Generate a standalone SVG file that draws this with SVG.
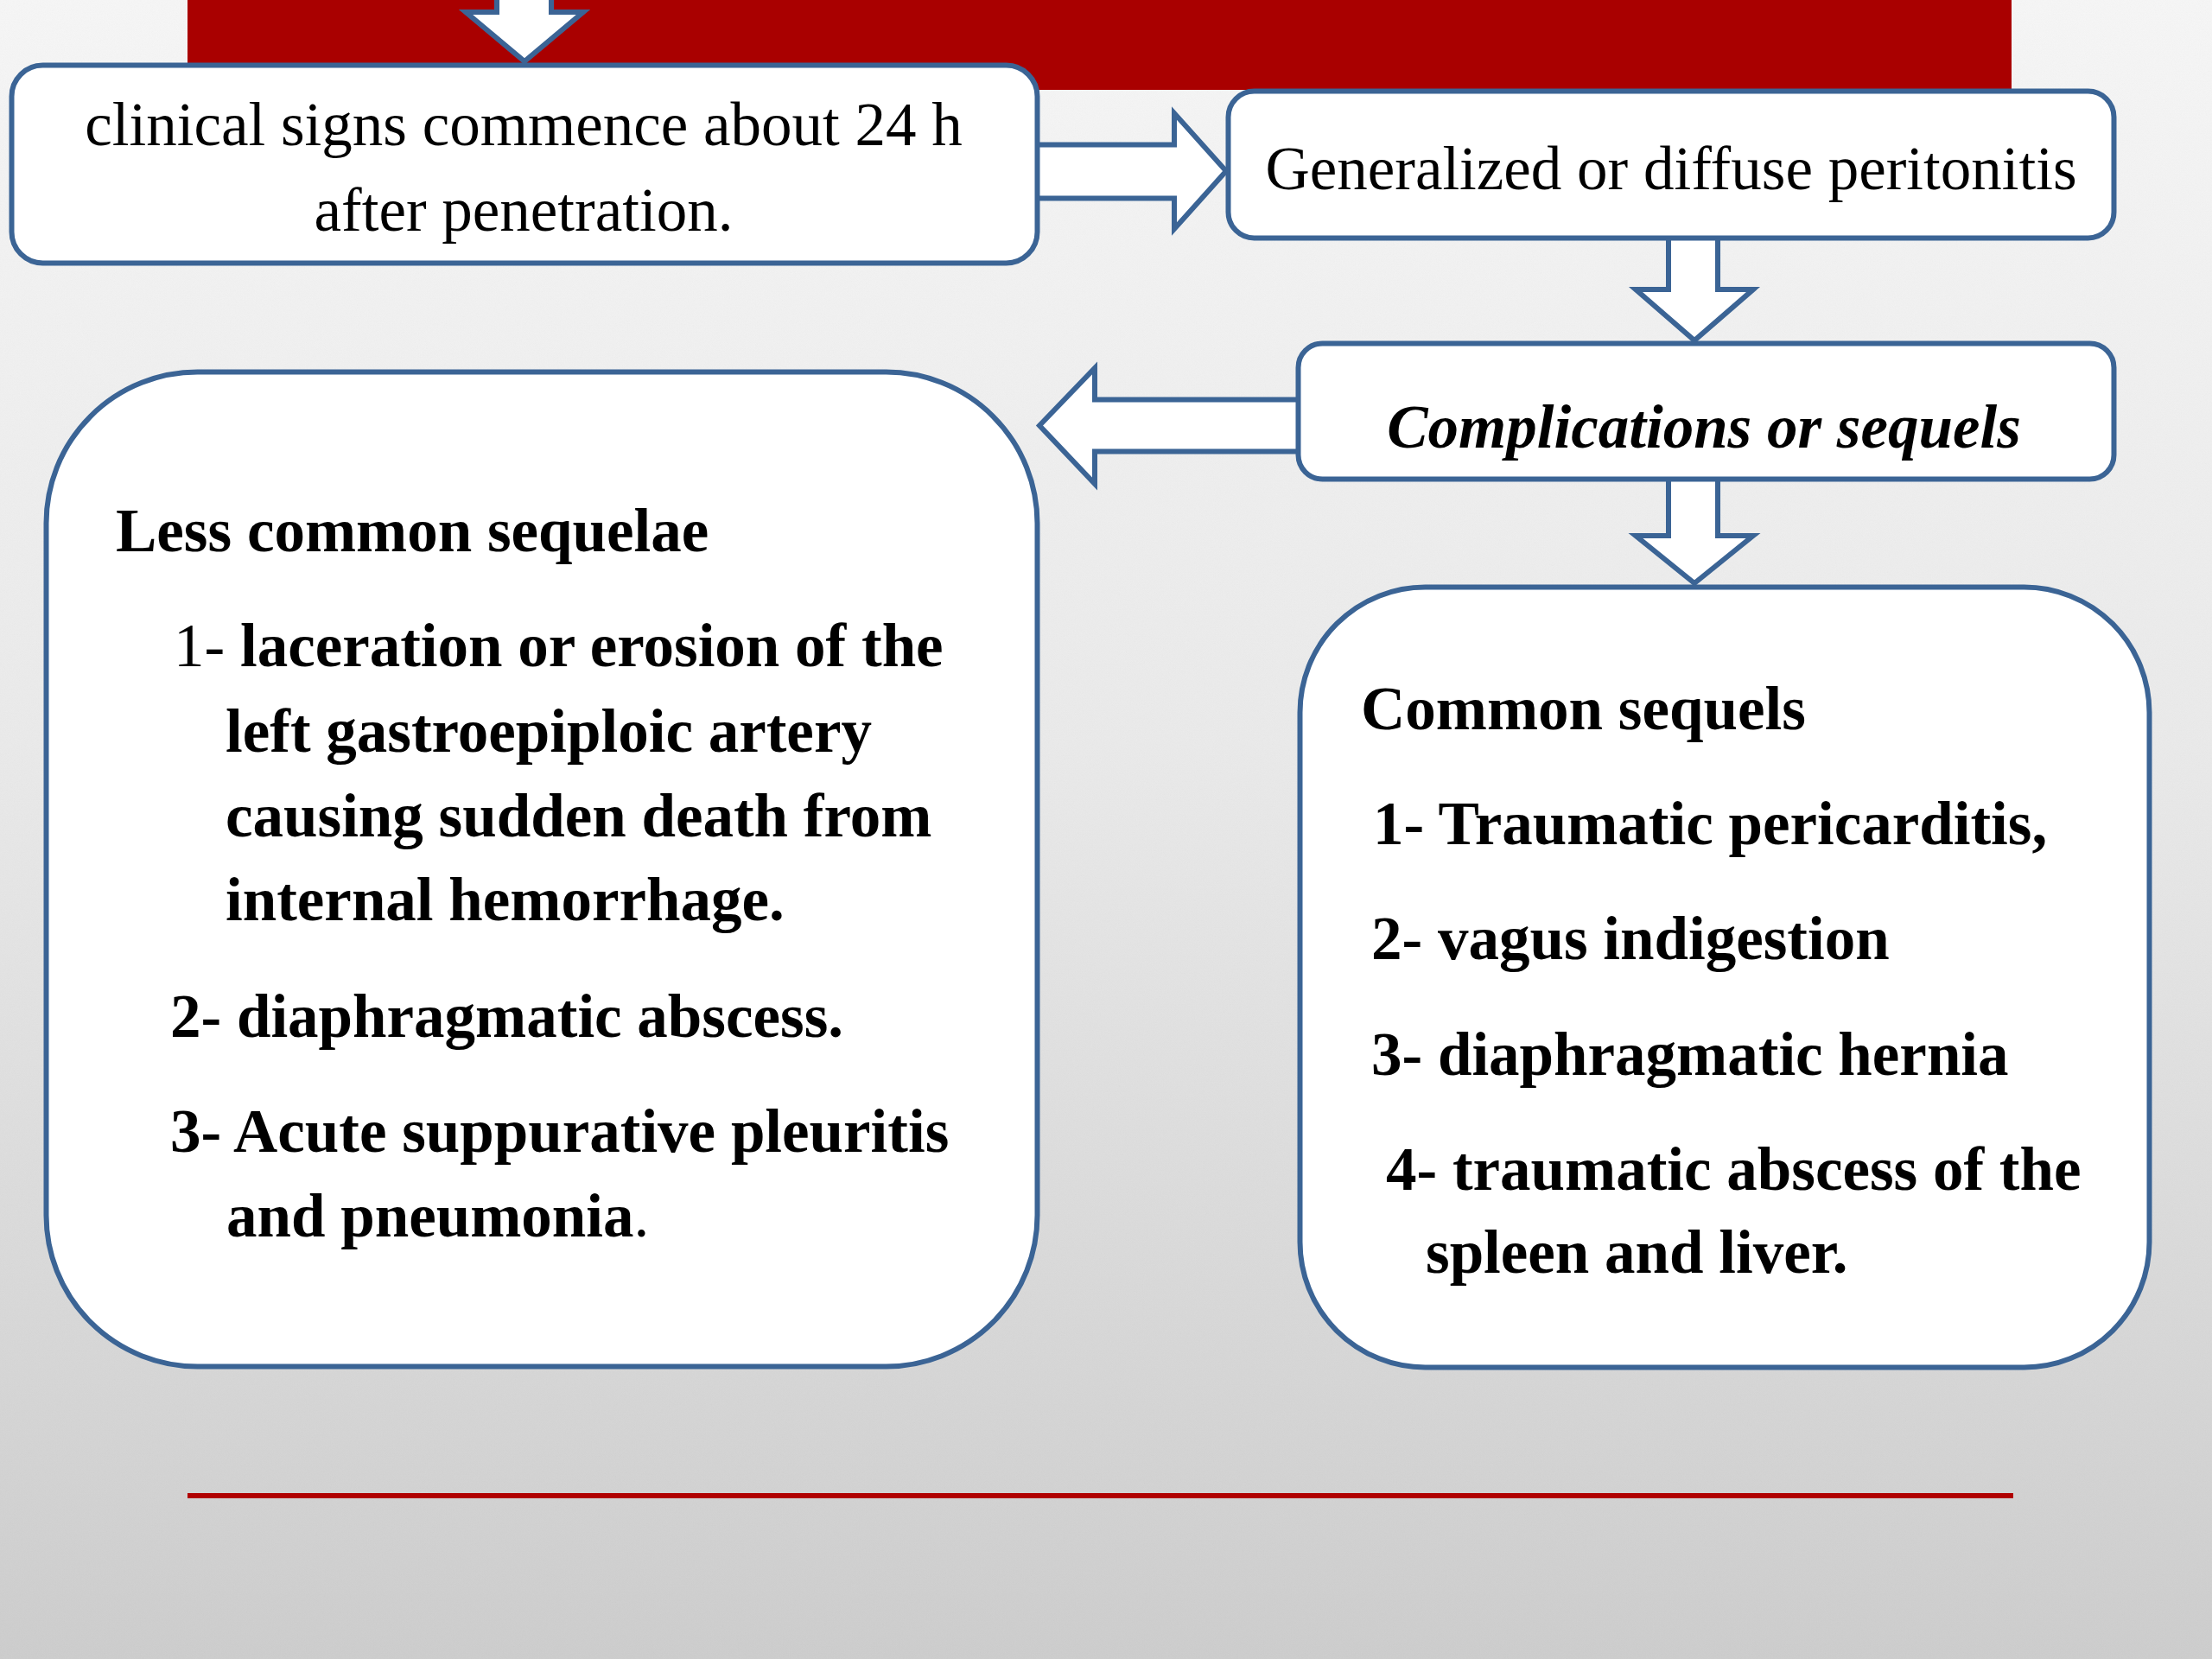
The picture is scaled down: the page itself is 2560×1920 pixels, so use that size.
<svg xmlns="http://www.w3.org/2000/svg" width="2560" height="1920" viewBox="0 0 2560 1920">
<defs>
<linearGradient id="bg" x1="0" y1="0" x2="0" y2="1">
<stop offset="0" stop-color="#f6f6f6"/>
<stop offset="0.45" stop-color="#eaeaea"/>
<stop offset="1" stop-color="#cdcdcd"/>
</linearGradient>
<filter id="noise" x="0" y="0" width="100%" height="100%">
<feTurbulence type="fractalNoise" baseFrequency="0.9" numOctaves="2" seed="3"/>
<feColorMatrix type="saturate" values="0"/>
</filter>
</defs>
<style>
.box{fill:#ffffff;stroke:#3b6495;stroke-width:6}
.arr{fill:#ffffff;stroke:#3b6495;stroke-width:6;stroke-linejoin:miter}
.t{font-family:"Liberation Serif","Times New Roman",serif;font-size:71px;fill:#000000}
.b{font-weight:bold}
.n{font-weight:normal}
.bi{font-weight:bold;font-style:italic}
</style>
<rect x="0" y="0" width="2560" height="1920" fill="url(#bg)"/>
<rect x="0" y="0" width="2560" height="1920" filter="url(#noise)" opacity="0.05"/>
<rect x="217" y="0" width="2111" height="104" fill="#a90000"/>
<line x1="217" y1="1731" x2="2330" y2="1731" stroke="#b00000" stroke-width="6"/>
<g id="connectors">
<polygon class="arr" points="575,-10 638,-10 638,14 675,14 607,71 539,14 575,14"/>
<polygon class="arr" points="1190,167.5 1359,167.5 1359,131 1419,198 1359,265 1359,229.5 1190,229.5"/>
<polygon class="arr" points="1931,260 1988,260 1988,335 2029,335 1961,394 1893,335 1931,335"/>
<polygon class="arr" points="1520,462.5 1267,462.5 1267,426 1203,492.5 1267,560 1267,522.5 1520,522.5"/>
<polygon class="arr" points="1931,540 1988,540 1988,620 2029,620 1961,675 1893,620 1931,620"/>
</g>
<g id="node-clinical">
<rect class="box" x="13.5" y="75.5" width="1187" height="229" rx="36"/>
<text class="t" x="606" y="168" text-anchor="middle">clinical signs commence about 24 h</text>
<text class="t" x="606" y="267" text-anchor="middle">after penetration.</text>
</g>
<g id="node-peritonitis">
<rect class="box" x="1421.5" y="105.5" width="1025" height="170" rx="30"/>
<text class="t" x="1934" y="219" text-anchor="middle">Generalized or diffuse peritonitis</text>
</g>
<g id="node-complications">
<rect class="box" x="1502.5" y="397.5" width="944" height="157" rx="28"/>
<text class="t bi" x="1972" y="518" text-anchor="middle">Complications or sequels</text>
</g>
<g id="node-less-common">
<rect class="box" x="53.5" y="430.5" width="1147" height="1151" rx="175"/>
<text class="t b" x="134" y="638">Less common sequelae</text>
<text class="t b" x="201" y="771"><tspan class="n">1- </tspan>laceration or erosion of the</text>
<text class="t b" x="261" y="870">left gastroepiploic artery</text>
<text class="t b" x="261" y="968">causing sudden death from</text>
<text class="t b" x="261" y="1065">internal hemorrhage.</text>
<text class="t b" x="197" y="1200">2- diaphragmatic abscess.</text>
<text class="t b" x="197" y="1333">3- Acute suppurative pleuritis</text>
<text class="t b" x="262" y="1431">and pneumonia<tspan class="n">.</tspan></text>
</g>
<g id="node-common">
<rect class="box" x="1504.5" y="679.5" width="983" height="903" rx="145"/>
<text class="t b" x="1575" y="844">Common sequels</text>
<text class="t b" x="1589" y="977">1- Traumatic pericarditis,</text>
<text class="t b" x="1587" y="1110">2- vagus indigestion</text>
<text class="t b" x="1587" y="1244">3- diaphragmatic hernia</text>
<text class="t b" x="1604" y="1377">4- traumatic abscess of the</text>
<text class="t b" x="1650" y="1473">spleen and liver.</text>
</g>
</svg>
